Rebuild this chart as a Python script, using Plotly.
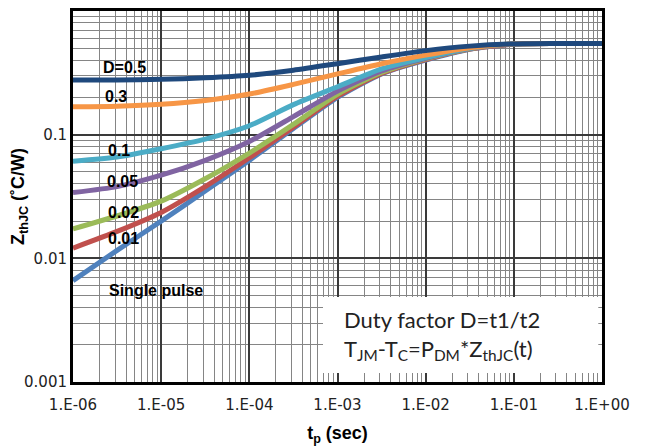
import math
import plotly.graph_objects as go

# pulse duration (s), half-decade steps
t = [1e-6, 3.16e-6, 1e-5, 3.16e-5, 1e-4, 3.16e-4, 1e-3, 3.16e-3,
     1e-2, 3.16e-2, 1e-1, 3.16e-1, 1e0]

z_d05 = [0.277, 0.277, 0.280, 0.288, 0.302, 0.332, 0.375, 0.425, 0.478, 0.520, 0.542, 0.545, 0.545]
z_d03 = [0.168, 0.170, 0.176, 0.189, 0.213, 0.255, 0.310, 0.375, 0.440, 0.505, 0.542, 0.545, 0.545]
z_d01 = [0.061, 0.066, 0.077, 0.092, 0.118, 0.175, 0.244, 0.340, 0.420, 0.500, 0.542, 0.545, 0.545]
z_d005 = [0.034, 0.038, 0.047, 0.062, 0.088, 0.140, 0.225, 0.328, 0.415, 0.498, 0.540, 0.545, 0.545]
z_d002 = [0.0173, 0.022, 0.029, 0.044, 0.071, 0.121, 0.212, 0.318, 0.410, 0.495, 0.540, 0.545, 0.545]
z_d001 = [0.0121, 0.0165, 0.0235, 0.038, 0.065, 0.115, 0.205, 0.313, 0.405, 0.492, 0.540, 0.545, 0.545]
z_single = [0.0066, 0.0116, 0.020, 0.035, 0.062, 0.112, 0.200, 0.310, 0.400, 0.490, 0.540, 0.545, 0.545]

series = [
    ("D=0.5", z_d05, "#1F497D"),
    ("0.3", z_d03, "#F79646"),
    ("0.1", z_d01, "#4BACC6"),
    ("0.05", z_d005, "#8064A2"),
    ("0.02", z_d002, "#9BBB59"),
    ("0.01", z_d001, "#C0504D"),
    ("Single pulse", z_single, "#4F81BD"),
]
draw_order = [6, 5, 4, 3, 2, 1, 0]

x_tickvals = [1e-6, 1e-5, 1e-4, 1e-3, 1e-2, 1e-1, 1e0]
x_ticktext = ["1.E-06", "1.E-05", "1.E-04", "1.E-03", "1.E-02", "1.E-01", "1.E+00"]
y_tickvals = [0.001, 0.01, 0.1, 1]
y_ticktext = ["0.001", "0.01", "0.1", "1"]

# curve labels: (text, x in seconds, y value)
labels = [
    ("D=0.5", 2.07e-6, 0.352),
    ("0.3", 2.19e-6, 0.202),
    ("0.1", 2.37e-6, 0.0738),
    ("0.05", 2.31e-6, 0.0415),
    ("0.02", 2.37e-6, 0.0233),
    ("0.01", 2.37e-6, 0.01435),
    ("Single pulse", 2.43e-6, 0.00545),
]

fig = go.Figure()
for i in draw_order:
    name, z, col = series[i]
    fig.add_trace(go.Scatter(x=t, y=z, mode="lines", name=name,
                             line=dict(color=col, width=5, shape="spline", smoothing=0.6),
                             showlegend=False, hoverinfo="skip"))

for txt, lx, yv in labels:
    fig.add_annotation(x=math.log10(lx), y=math.log10(yv), xref="x", yref="y",
                       text="<b>%s</b>" % txt, showarrow=False, xanchor="left",
                       yanchor="middle",
                       font=dict(family="Liberation Sans, Arial, sans-serif", size=16, color="black"))

# info box (white panel over the grid)
fig.add_shape(type="rect", xref="paper", yref="paper", x0=0.4726, x1=0.993, y0=0.024, y1=0.229,
              fillcolor="white", line=dict(width=0), layer="above")
fig.add_annotation(x=0.5085, y=0.126, xref="paper", yref="paper", xanchor="left", yanchor="middle",
                   text="Duty factor D=t1/t2<br>T<sub>JM</sub>-T<sub>C</sub>=P<sub>DM</sub>*Z<sub>thJC</sub>(t)",
                   showarrow=False, align="left",
                   font=dict(family="Lato, Liberation Sans, sans-serif", size=22, color="#222"))

grid_major = "#3a3a3a"
grid_minor = "#858585"
tickfont = dict(family="DejaVu Sans, Verdana, sans-serif", size=15, color="#222")

fig.update_xaxes(type="log", range=[-6, 0], tickvals=x_tickvals, ticktext=x_ticktext,
                 showgrid=True, gridcolor=grid_major, gridwidth=1.5,
                 minor=dict(dtick="D1", showgrid=True, gridcolor=grid_minor, gridwidth=1.2,
                            ticks=""),
                 showline=True, linecolor="black", linewidth=3, mirror=True,
                 ticks="", tickfont=tickfont, zeroline=False, automargin=False,
                 ticklabelstandoff=7,
                 title=dict(text="<b>t<sub>p</sub> (sec)</b>", standoff=22,
                            font=dict(family="Liberation Sans, Arial, sans-serif", size=18,
                                      color="black")))
fig.update_yaxes(type="log", range=[-3, 0], tickvals=y_tickvals, ticktext=y_ticktext,
                 showgrid=True, gridcolor=grid_major, gridwidth=1.5,
                 minor=dict(dtick="D1", showgrid=True, gridcolor=grid_minor, gridwidth=1.2,
                            ticks=""),
                 showline=True, linecolor="black", linewidth=3, mirror=True,
                 ticks="", tickfont=tickfont, zeroline=False, automargin=False,
                 title=dict(text="<b>Z<sub>thJC</sub> (˚C/W)</b>", standoff=4,
                            font=dict(family="Liberation Sans, Arial, sans-serif", size=18,
                                      color="black")))

# page body has an 8px margin, so the figure is sized to fit the 646x446 window
fig.update_layout(width=638, height=438, margin=dict(l=65, r=44, t=3, b=64),
                  paper_bgcolor="white", plot_bgcolor="white")

fig.write_html("out.html")
